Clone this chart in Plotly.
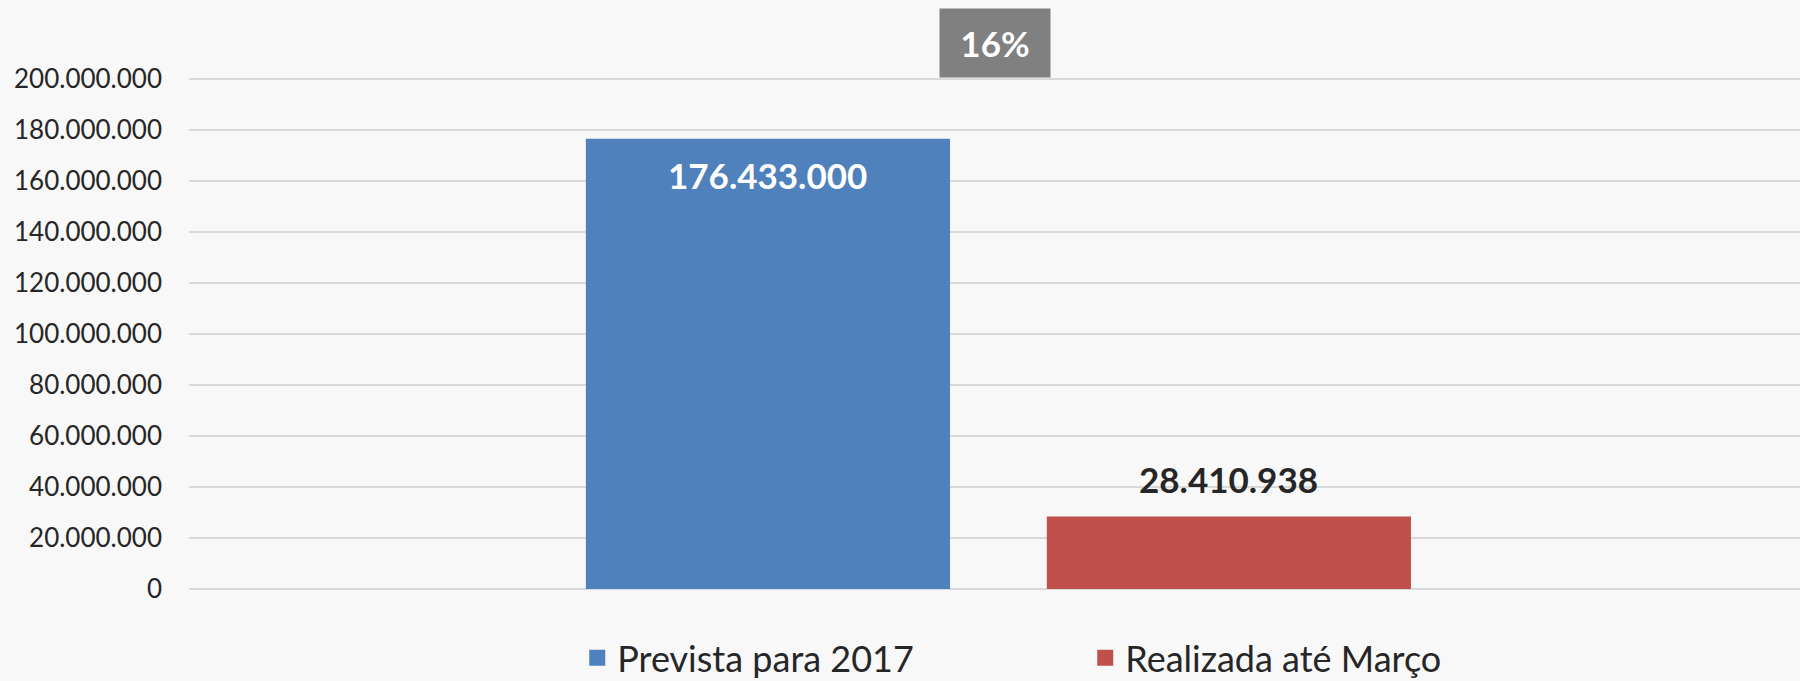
import plotly.graph_objects as go

series_names = ["Prevista para 2017", "Realizada até Março"]
series_values = [176433000, 28410938]
series_colors = ["#4f81bd", "#c0504d"]
tick_values = [0, 20000000, 40000000, 60000000, 80000000, 100000000,
               120000000, 140000000, 160000000, 180000000, 200000000]

def fmt(v):
    return f"{v:,}".replace(",", ".")

tick_labels = [fmt(v) for v in tick_values]
pct_text = f"{round(series_values[1] / series_values[0] * 100)}%"

FONT = "Lato"
fig = go.Figure()
for i, (name, val, col) in enumerate(zip(series_names, series_values, series_colors)):
    fig.add_trace(go.Bar(
        x=[i], y=[val], name=name, width=0.79, showlegend=False,
        marker=dict(color=col, line=dict(width=0)),
        hoverinfo="skip",
    ))
# legend entries (larger square swatches)
for name, col in zip(series_names, series_colors):
    fig.add_trace(go.Scatter(
        x=[None], y=[None], mode="markers", name=name,
        marker=dict(symbol="square", size=22, color=col),
        hoverinfo="skip",
    ))

annotations = [
    dict(x=0, y=series_values[0], xref="x", yref="y", text=f"<b>{fmt(series_values[0])}</b>",
         showarrow=False, yanchor="middle", yshift=-36,
         font=dict(family=FONT, size=35, color="#ffffff")),
    dict(x=1, y=series_values[1], xref="x", yref="y", text=f"<b>{fmt(series_values[1])}</b>",
         showarrow=False, yanchor="middle", yshift=37,
         font=dict(family=FONT, size=35, color="#262626")),
    dict(x=0.5, y=1, xref="paper", yref="paper", text=f"<b>{pct_text}</b>",
         showarrow=False, xanchor="center", yanchor="bottom", yshift=-2,
         width=110, height=68, borderpad=0, bgcolor="#808080",
         font=dict(family=FONT, size=35, color="#ffffff")),
]

fig.update_layout(
    width=1800, height=681,
    margin=dict(l=189, r=0, t=76, b=92, autoexpand=False),
    paper_bgcolor="#f8f8f9", plot_bgcolor="#f8f8f9",
    font=dict(family=FONT, color="#262626"),
    barmode="overlay",
    showlegend=True,
    legend=dict(orientation="h", x=0.241, xanchor="left", y=-0.134, yanchor="middle",
                font=dict(family=FONT, size=36, color="#262626"),
                itemsizing="trace",
                entrywidth=463, entrywidthmode="pixels",
                bgcolor="rgba(0,0,0,0)", itemclick=False, itemdoubleclick=False),
    annotations=annotations,
    xaxis=dict(range=[-1.256, 2.239], showticklabels=False, showgrid=False,
               zeroline=False, showline=False, fixedrange=True),
    yaxis=dict(range=[0, 201000000], tickvals=tick_values, ticktext=tick_labels,
               showgrid=True, gridcolor="#d9d9d9", gridwidth=1.5,
               zeroline=True, zerolinecolor="#d9d9d9", zerolinewidth=1.5,
               showline=False, ticks="", ticklabelstandoff=26,
               tickfont=dict(family=FONT, size=26, color="#262626"), fixedrange=True),
)

fig.write_html("out.html", config={"displayModeBar": False},
               post_script="document.body.style.margin='0';document.body.style.overflow='hidden';")
